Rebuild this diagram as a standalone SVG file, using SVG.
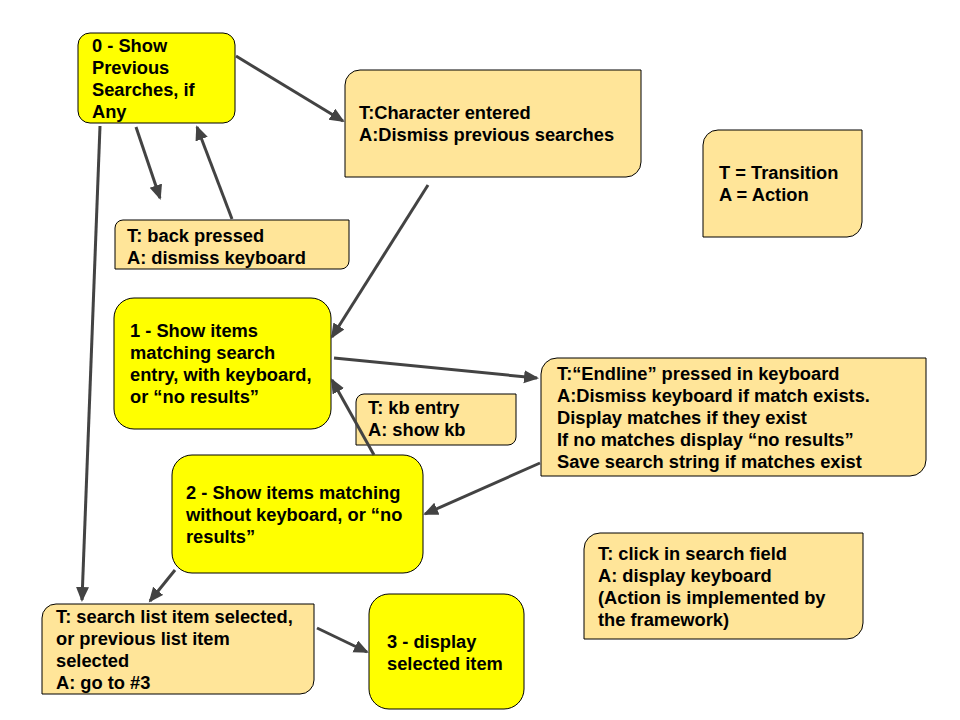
<svg xmlns="http://www.w3.org/2000/svg" width="960" height="720" viewBox="0 0 960 720">
<defs>
<style>
.y{fill:#ffff00;stroke:#000;stroke-width:1}
.o{fill:#ffe599;stroke:#000;stroke-width:1}
.t{font-family:"Liberation Sans",Arial,sans-serif;font-weight:bold;font-size:18.3px;fill:#000}
.c line{stroke:#434343;stroke-width:3;marker-end:url(#ah)}
</style>
<marker id="ah" markerUnits="userSpaceOnUse" markerWidth="16" markerHeight="14" refX="13" refY="6.5" orient="auto">
<path d="M0,0 L15,6.5 L0,13 Z" fill="#434343"/>
</marker>
</defs>
<rect width="960" height="720" fill="#fff"/>
<g id="n0">
<rect class="y" x="78" y="33" width="157" height="90" rx="12"/>
<text class="t" x="92"><tspan x="92" y="52">0 - Show</tspan><tspan x="92" y="74">Previous</tspan><tspan x="92" y="96">Searches, if</tspan><tspan x="92" y="118">Any</tspan></text>
</g>
<g id="tChar">
<path class="o" d="M360,70 H641 V162 A15,15 0 0 1 626,177 H345 V85 A15,15 0 0 1 360,70 Z"/>
<text class="t"><tspan x="359" y="119">T:Character entered</tspan><tspan x="359" y="141">A:Dismiss previous searches</tspan></text>
</g>
<g id="legend">
<path class="o" d="M718,130 H862 V222 A15,15 0 0 1 847,237 H703 V145 A15,15 0 0 1 718,130 Z"/>
<text class="t"><tspan x="719" y="179">T = Transition</tspan><tspan x="719" y="201">A = Action</tspan></text>
</g>
<g id="tBack">
<path class="o" d="M123,220 H349 V261 A8,8 0 0 1 341,269 H115 V228 A8,8 0 0 1 123,220 Z"/>
<text class="t"><tspan x="127" y="242">T: back pressed</tspan><tspan x="127" y="264">A: dismiss keyboard</tspan></text>
</g>
<g id="n1">
<rect class="y" x="114" y="298" width="217" height="131" rx="20"/>
<text class="t"><tspan x="130" y="337">1 - Show items</tspan><tspan x="130" y="359">matching search</tspan><tspan x="130" y="381">entry, with keyboard,</tspan><tspan x="130" y="403">or “no results”</tspan></text>
</g>
<g id="tKb">
<path class="o" d="M364,394 H516 V437 A8,8 0 0 1 508,445 H356 V402 A8,8 0 0 1 364,394 Z"/>
<text class="t"><tspan x="368" y="414">T: kb entry</tspan><tspan x="368" y="436">A: show kb</tspan></text>
</g>
<g id="tEnd">
<path class="o" d="M557,358 H926 V460 A16,16 0 0 1 910,476 H541 V374 A16,16 0 0 1 557,358 Z"/>
<text class="t"><tspan x="557" y="380">T:“Endline” pressed in keyboard</tspan><tspan x="557" y="402">A:Dismiss keyboard if match exists.</tspan><tspan x="557" y="424">Display matches if they exist</tspan><tspan x="557" y="446">If no matches display “no results”</tspan><tspan x="557" y="468">Save search string if matches exist</tspan></text>
</g>
<g id="n2">
<rect class="y" x="172" y="455" width="251" height="118" rx="20"/>
<text class="t"><tspan x="186" y="499">2 - Show items matching</tspan><tspan x="186" y="521">without keyboard, or “no</tspan><tspan x="186" y="543">results”</tspan></text>
</g>
<g id="tClick">
<path class="o" d="M600,533 H863 V623 A16,16 0 0 1 847,639 H584 V549 A16,16 0 0 1 600,533 Z"/>
<text class="t"><tspan x="598" y="560">T: click in search field</tspan><tspan x="598" y="582">A: display keyboard</tspan><tspan x="598" y="604">(Action is implemented by</tspan><tspan x="598" y="626">the framework)</tspan></text>
</g>
<g id="tSel">
<path class="o" d="M56,604 H314 V680 A14,14 0 0 1 300,694 H42 V618 A14,14 0 0 1 56,604 Z"/>
<text class="t"><tspan x="56" y="623">T: search list item selected,</tspan><tspan x="56" y="645">or previous list item</tspan><tspan x="56" y="667">selected</tspan><tspan x="56" y="689">A: go to #3</tspan></text>
</g>
<g id="n3">
<rect class="y" x="369" y="594" width="155" height="115" rx="20"/>
<text class="t"><tspan x="387" y="648">3 - display</tspan><tspan x="387" y="670">selected item</tspan></text>
</g>
<g id="connectors" class="c">
<line x1="236" y1="56" x2="343" y2="121"/>
<line x1="136" y1="127" x2="160" y2="198"/>
<line x1="232" y1="219" x2="197" y2="127"/>
<line x1="100" y1="126" x2="82" y2="600"/>
<line x1="428" y1="185" x2="332" y2="337"/>
<line x1="334" y1="358" x2="537" y2="378"/>
<line x1="374" y1="455" x2="332" y2="380"/>
<line x1="540" y1="463" x2="425" y2="514"/>
<line x1="175" y1="570" x2="150" y2="601"/>
<line x1="317" y1="628" x2="367" y2="652"/>
</g>
</svg>
